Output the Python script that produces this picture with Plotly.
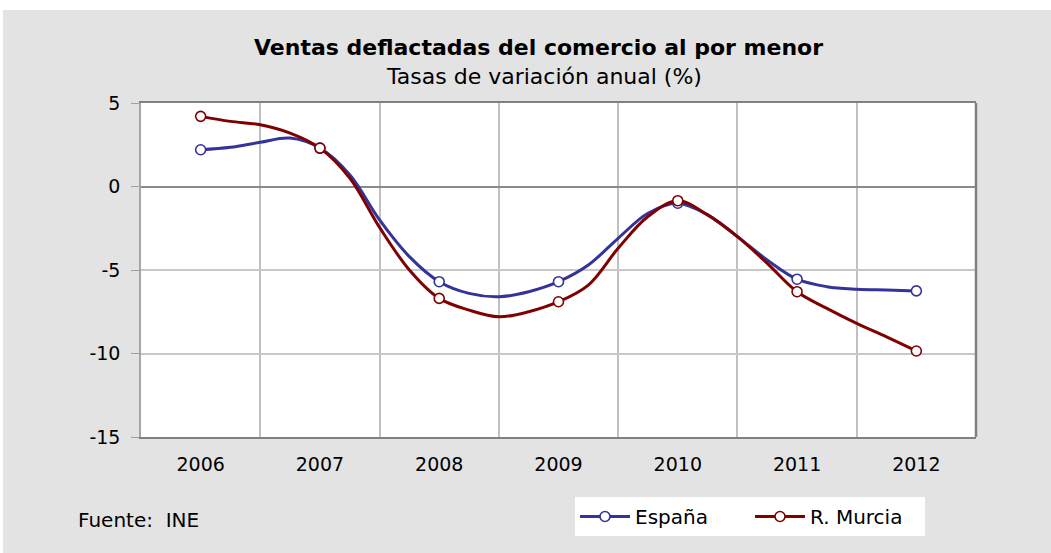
import plotly.graph_objects as go

# ---- data ----
years = ["2006", "2007", "2008", "2009", "2010", "2011", "2012"]
# quarterly readings (Q-positions 0, 0.25, ... 6 across the years)
espana_q = [2.2, 2.35, 2.65, 2.9, 2.3, 0.7, -2.0, -4.2, -5.7, -6.4, -6.6, -6.3, -5.7,
            -4.7, -3.1, -1.6, -1.0, -1.7, -3.0, -4.4, -5.55, -6.0, -6.15, -6.2, -6.25]
murcia_q = [4.2, 3.9, 3.7, 3.2, 2.3, 0.5, -2.45, -5.0, -6.7, -7.4, -7.8, -7.5, -6.9,
            -5.9, -3.7, -1.8, -0.85, -1.7, -3.0, -4.6, -6.3, -7.3, -8.2, -9.0, -9.85]
y_ticks = [5, 0, -5, -10, -15]

quarter_pos = [i / 4 for i in range(len(espana_q))]
year_pos = list(range(len(years)))
espana_y = espana_q[::4]
murcia_y = murcia_q[::4]

BLUE = "#333399"
RED = "#800000"
FONT = "DejaVu Sans"

fig = go.Figure()
for name, q, a, col in [("España", espana_q, espana_y, BLUE),
                        ("R. Murcia", murcia_q, murcia_y, RED)]:
    fig.add_trace(go.Scatter(x=quarter_pos, y=q, mode="lines",
                             line=dict(color=col, width=3, shape="spline"),
                             showlegend=False, hoverinfo="skip"))
    fig.add_trace(go.Scatter(x=year_pos, y=a, mode="markers",
                             marker=dict(symbol="circle", size=10, color="white",
                                         line=dict(color=col, width=1.6)),
                             showlegend=False, name=name))
    fig.add_trace(go.Scatter(x=[None], y=[None], mode="lines+markers", name=name,
                             line=dict(color=col, width=3),
                             marker=dict(symbol="circle", size=10, color="white",
                                         line=dict(color=col, width=1.6))))

W, H = 1051, 553
L, R, T, B = 141, 75, 103, 116
pw, ph = W - L - R, H - T - B

def px_x(p):
    return (p - L) / pw

def px_y(p):
    return (H - B - p) / ph

fig.update_layout(
    width=W, height=H,
    margin=dict(l=L, r=R, t=T, b=B, pad=0),
    paper_bgcolor="#e3e3e3",
    plot_bgcolor="white",
    font=dict(family=FONT, size=19, color="black"),
    showlegend=True,
    legend=dict(orientation="h", x=px_x(575), y=px_y(497), xanchor="left", yanchor="top",
                bgcolor="white", font=dict(family=FONT, size=20),
                itemwidth=50, entrywidth=110, entrywidthmode="pixels", tracegroupgap=0),
    xaxis=dict(range=[-0.5, 6.5], tickmode="array", tickvals=year_pos, ticktext=years,
               showgrid=False, zeroline=False, ticks="",
               showline=True, mirror=True, linecolor="#808080", linewidth=2,
               tickfont=dict(family=FONT, size=19), ticklabelstandoff=9,
               minor=dict(tickmode="array", tickvals=[i + 0.5 for i in range(6)],
                          showgrid=True, gridcolor="#c0c0c0", gridwidth=2, ticks="")),
    yaxis=dict(range=[-15, 5], tickmode="array", tickvals=y_ticks,
               ticktext=[str(v) for v in y_ticks],
               showgrid=True, gridcolor="#c8c8c8", gridwidth=1.5,
               zeroline=True, zerolinecolor="#8a8a8a", zerolinewidth=1.5,
               ticks="outside", ticklen=8, tickcolor="#a0a0a0", tickwidth=1,
               showline=True, linecolor="#a6a6a6", linewidth=1.5,
               tickfont=dict(family=FONT, size=19), ticklabelstandoff=7),
    shapes=[
        dict(type="rect", xref="paper", yref="paper", x0=px_x(0), x1=px_x(W),
             y0=px_y(10), y1=px_y(0), fillcolor="white", line=dict(width=0), layer="below"),
        dict(type="rect", xref="paper", yref="paper", x0=px_x(0), x1=px_x(3),
             y0=px_y(H), y1=px_y(0), fillcolor="white", line=dict(width=0), layer="below"),
        dict(type="line", xref="paper", yref="paper", x0=1, x1=1, y0=0, y1=1,
             line=dict(color="#808080", width=2.5)),
    ],
    annotations=[
        dict(text="<b>Ventas deflactadas del comercio al por menor</b>", xref="paper",
             yref="paper", x=px_x(538), y=px_y(47), xanchor="center", yanchor="middle",
             showarrow=False, font=dict(family=FONT, size=22)),
        dict(text="Tasas de variación anual (%)", xref="paper", yref="paper",
             x=px_x(544), y=px_y(76), xanchor="center", yanchor="middle",
             showarrow=False, font=dict(family=FONT, size=22)),
        dict(text="Fuente:  INE", xref="paper", yref="paper", x=px_x(76), y=px_y(520),
             xanchor="left", yanchor="middle", showarrow=False,
             font=dict(family=FONT, size=20)),
    ],
)

fig.write_html("out.html", config={"displayModeBar": False},
               post_script="document.body.style.margin='0';")
